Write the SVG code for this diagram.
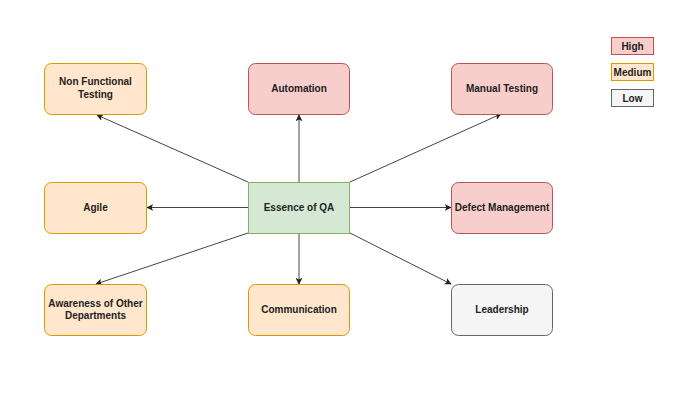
<svg xmlns="http://www.w3.org/2000/svg" width="690" height="402" viewBox="0 0 690 402">
<defs>
<style>
text{font-family:"Liberation Sans",Arial,sans-serif;font-weight:bold;font-size:10px;fill:#222;text-anchor:middle;dominant-baseline:central}
.med{fill:#ffe6cc;stroke:#d79b00}
.high{fill:#f8cecc;stroke:#b85450}
.low{fill:#f5f5f5;stroke:#666}
.core{fill:#d5e8d4;stroke:#82b366}
.edge{stroke:#444;stroke-width:1;fill:none;marker-end:url(#arr)}
</style>
<marker id="arr" viewBox="0 0 10 10" refX="9" refY="5" markerWidth="7" markerHeight="7" markerUnits="userSpaceOnUse" orient="auto">
<path d="M0,0 L10,5 L0,10 L2.5,5 Z" fill="#222"/>
</marker>
</defs>
<rect width="690" height="402" fill="#fff"/>
<g id="connectors">
<line class="edge" x1="248" y1="182" x2="97" y2="115"/>
<line class="edge" x1="299" y1="182" x2="299" y2="115"/>
<line class="edge" x1="350" y1="182" x2="501" y2="114"/>
<line class="edge" x1="248" y1="207.5" x2="147" y2="207.5"/>
<line class="edge" x1="350" y1="207.5" x2="451" y2="207.5"/>
<line class="edge" x1="248" y1="233" x2="96" y2="284"/>
<line class="edge" x1="299" y1="233" x2="299" y2="284"/>
<line class="edge" x1="350" y1="233" x2="451" y2="284"/>
</g>
<g id="nonfunctional"><rect class="med" x="44.5" y="63.5" width="102" height="51" rx="7"/><text x="95.5" y="81.5">Non Functional</text><text x="95.5" y="94.5">Testing</text></g>
<g id="automation"><rect class="high" x="248.5" y="63.5" width="101" height="51" rx="7"/><text x="299" y="88.5">Automation</text></g>
<g id="manual"><rect class="high" x="451.5" y="63.5" width="101" height="51" rx="7"/><text x="502" y="88.5">Manual Testing</text></g>
<g id="agile"><rect class="med" x="44.5" y="182.5" width="102" height="51" rx="7"/><text x="95.5" y="207.5">Agile</text></g>
<g id="essence"><rect class="core" x="248.5" y="182.5" width="101" height="51"/><text x="299" y="207.5">Essence of QA</text></g>
<g id="defect"><rect class="high" x="451.5" y="182.5" width="101" height="51" rx="7"/><text x="502" y="207.5">Defect Management</text></g>
<g id="awareness"><rect class="med" x="44.5" y="284.5" width="102" height="51" rx="7"/><text x="95.5" y="303">Awareness of Other</text><text x="95.5" y="315.5">Departments</text></g>
<g id="communication"><rect class="med" x="248.5" y="284.5" width="101" height="51" rx="7"/><text x="299" y="309.5">Communication</text></g>
<g id="leadership"><rect class="low" x="451.5" y="284.5" width="101" height="51" rx="7"/><text x="502" y="309.5">Leadership</text></g>
<g id="legend-high"><rect class="high" x="611.5" y="37.5" width="42" height="17"/><text x="632.5" y="46">High</text></g>
<g id="legend-medium"><rect class="med" x="611.5" y="63.5" width="42" height="17"/><text x="632.5" y="72">Medium</text></g>
<g id="legend-low"><rect class="low" x="611.5" y="89.5" width="42" height="17"/><text x="632.5" y="98">Low</text></g>
</svg>
